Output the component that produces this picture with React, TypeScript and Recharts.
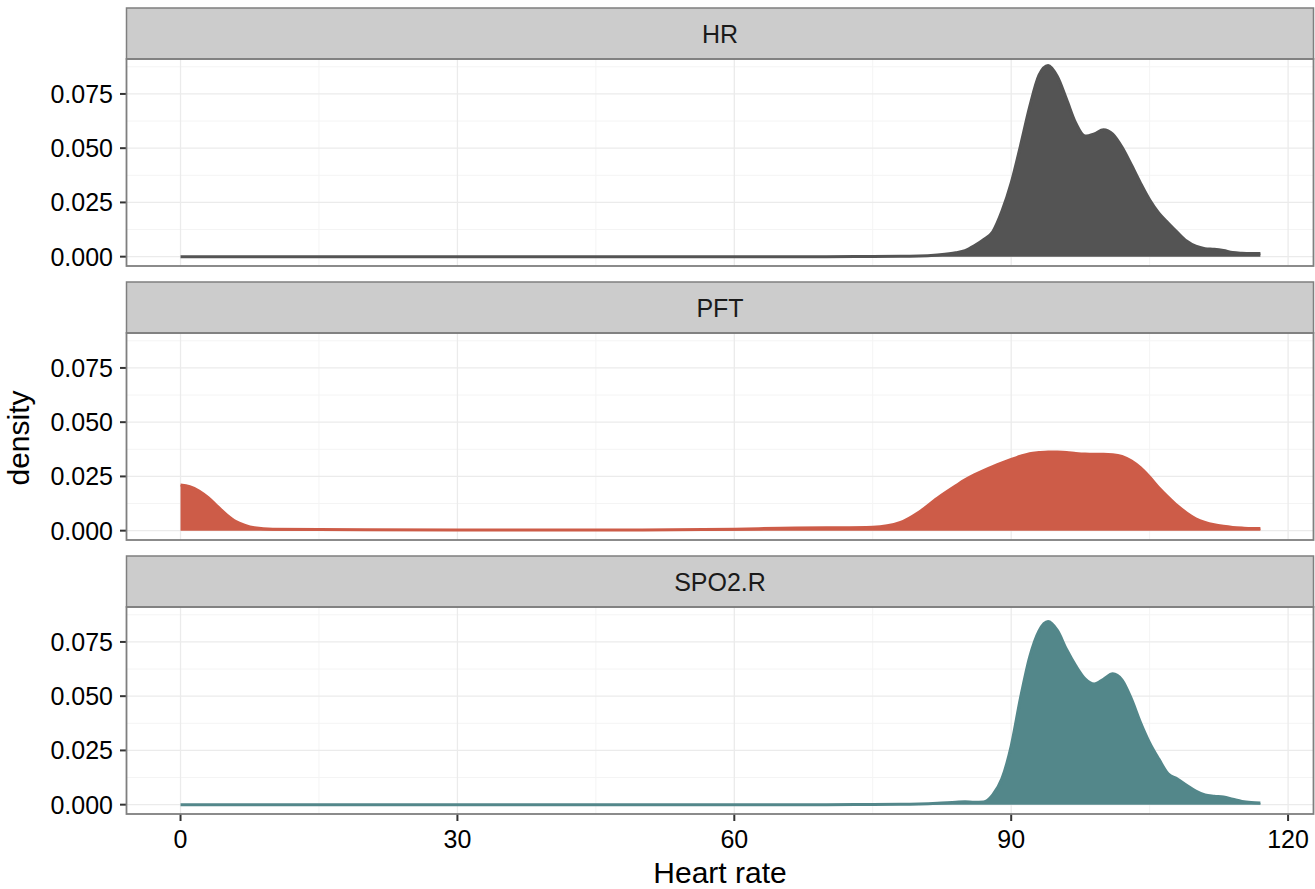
import { AreaChart, Area, XAxis, YAxis, CartesianGrid } from "recharts"

// heart rate grid the densities were read at
const heartRate = [
  0, 1, 2, 3, 4, 5, 6, 7, 8, 10, 20, 30, 40, 50, 60, 65, 70, 75, 78, 80, 82, 84,
  85, 86, 87, 88, 89, 90, 91, 92, 93, 94, 95, 96, 97, 98, 99, 100, 101, 102, 103,
  104, 105, 106, 107, 108, 109, 110, 111, 112, 113, 114, 115, 116, 117,
]

const hrDensity = [
  0, 0, 0, 0, 0, 0, 0, 0, 0, 0, 0, 0, 0, 0, 0, 0, 0, 0.0001, 0.0002, 0.0003, 0.0008, 0.0018,
  0.0028, 0.005, 0.0078, 0.0115, 0.021, 0.034, 0.051, 0.069, 0.0835, 0.0881, 0.083, 0.0725,
  0.0615, 0.0556, 0.0566, 0.0585, 0.0565, 0.0505, 0.0425, 0.034, 0.0262, 0.02, 0.0155, 0.0112,
  0.0072, 0.0048, 0.0037, 0.0034, 0.0028, 0.0019, 0.0016, 0.0015, 0.0015,
]

const pftDensity = [
  0.021, 0.0203, 0.0183, 0.0152, 0.0112, 0.0073, 0.0042, 0.0024, 0.0013, 0.0006, 0.0004,
  0.0003, 0.0003, 0.0003, 0.0007, 0.0011, 0.0013, 0.0016, 0.0038, 0.0085, 0.015, 0.0207,
  0.0234, 0.0257, 0.0277, 0.0295, 0.0312, 0.0328, 0.0343, 0.0355, 0.036, 0.0363, 0.0362,
  0.036, 0.0356, 0.0353, 0.0352, 0.0352, 0.035, 0.0342, 0.0322, 0.029, 0.0247, 0.0198,
  0.0155, 0.0115, 0.0082, 0.0055, 0.0038, 0.0027, 0.002, 0.0015, 0.0012, 0.001, 0.001,
]

const spo2Density = [
  0, 0, 0, 0, 0, 0, 0, 0, 0, 0, 0, 0, 0, 0, 0, 0, 0, 0.0001, 0.0002, 0.0003, 0.0006, 0.0011,
  0.0013, 0.0011, 0.0012, 0.0045, 0.012, 0.027, 0.049, 0.068, 0.08, 0.0844, 0.0803, 0.0715,
  0.064, 0.058, 0.0556, 0.0578, 0.0603, 0.0575, 0.049, 0.038, 0.0285, 0.021, 0.0142, 0.0118,
  0.009, 0.0063, 0.0045, 0.0039, 0.0035, 0.0025, 0.0015, 0.001, 0.0008,
]

const panels = [
  { name: "HR", key: "hr", color: "#545454" },
  { name: "PFT", key: "pft", color: "#cd5c48" },
  { name: "SPO2.R", key: "spo2", color: "#53878a" },
]

const xTicks = [0, 30, 60, 90, 120]
const xMinor = [15, 45, 75, 105]
const yTicks = [0, 0.025, 0.05, 0.075]
const yMinor = [0.0125, 0.0375, 0.0625, 0.0875]

const rows = heartRate.map((x, i) => ({
  x,
  hr: hrDensity[i],
  pft: pftDensity[i],
  spo2: spo2Density[i],
}))

const FONT = "'Liberation Sans', Arial, Helvetica, sans-serif"
const LEFT = 127
const RIGHT = 1313
const STRIP_H = 51
const PLOT_H = 207
const STEP = 274
const TOP0 = 8

function Panel({ index }: { index: number }) {
  const p = panels[index]
  const last = index === panels.length - 1
  const plotTop = TOP0 + index * STEP + STRIP_H
  // top panels get a little room below so the 0.000 label is not clipped
  return (
    <div style={{ position: "absolute", left: 0, top: plotTop }}>
      <AreaChart
        width={1315}
        height={last ? PLOT_H + 76 : PLOT_H + 14}
        data={rows}
        margin={{ top: 0, right: 1315 - RIGHT, left: 0, bottom: last ? 0 : 14 }}
      >
        <CartesianGrid
          verticalValues={xMinor}
          horizontalValues={yMinor}
          stroke="#f4f4f4"
          strokeWidth={1}
        />
        <CartesianGrid
          verticalValues={xTicks}
          horizontalValues={yTicks}
          stroke="#ebebeb"
          strokeWidth={1.3}
        />
        <XAxis
          type="number"
          dataKey="x"
          domain={[-5.8, 122.7]}
          ticks={xTicks}
          interval={0}
          hide={!last}
          height={76}
          axisLine={false}
          tickSize={7}
          tickMargin={9}
          tickLine={{ stroke: "#333", strokeWidth: 2 }}
          tick={{ fontSize: 25, fill: "#000", fontFamily: FONT }}
          allowDataOverflow
        />
        <YAxis
          width={LEFT}
          domain={[-0.0043, 0.0911]}
          ticks={yTicks}
          interval={0}
          tickFormatter={(v: number) => v.toFixed(3)}
          axisLine={false}
          tickSize={7}
          tickMargin={7}
          tickLine={{ stroke: "#333", strokeWidth: 2 }}
          tick={{ fontSize: 25, fill: "#000", fontFamily: FONT }}
          allowDataOverflow
        />
        <Area
          type="monotone"
          dataKey={p.key}
          stroke={p.color}
          strokeWidth={3}
          fill={p.color}
          fillOpacity={1}
          baseValue={0}
          dot={false}
          activeDot={false}
          isAnimationActive={false}
        />
      </AreaChart>
    </div>
  )
}

export default function App() {
  return (
    <div
      style={{
        position: "absolute",
        left: 0,
        top: 0,
        width: 1315,
        height: 889,
        background: "#fff",
        fontFamily: FONT,
        overflow: "hidden",
      }}
    >
      {panels.map((p, i) => (
        <Panel key={p.name} index={i} />
      ))}
      <svg
        width={1315}
        height={889}
        style={{ position: "absolute", left: 0, top: 0, pointerEvents: "none" }}
      >
        {panels.map((p, i) => {
          const top = TOP0 + i * STEP
          return (
            <g key={p.name}>
              <rect
                x={LEFT - 0.5}
                y={top}
                width={RIGHT - LEFT + 1}
                height={STRIP_H}
                fill="#cccccc"
                stroke="#7f7f7f"
                strokeWidth={1.5}
              />
              <text
                x={(LEFT + RIGHT) / 2}
                y={top + 34.5}
                textAnchor="middle"
                fontSize={25}
                fill="#1a1a1a"
                fontFamily={FONT}
              >
                {p.name}
              </text>
              <rect
                x={LEFT - 0.5}
                y={top + STRIP_H}
                width={RIGHT - LEFT + 1}
                height={PLOT_H}
                fill="none"
                stroke="#7f7f7f"
                strokeWidth={1.8}
              />
            </g>
          )
        })}
        <text
          x={720}
          y={883}
          textAnchor="middle"
          fontSize={30}
          fill="#000"
          fontFamily={FONT}
        >
          Heart rate
        </text>
        <text
          transform="translate(29 438) rotate(-90)"
          textAnchor="middle"
          fontSize={30}
          fill="#000"
          fontFamily={FONT}
        >
          density
        </text>
      </svg>
    </div>
  )
}
